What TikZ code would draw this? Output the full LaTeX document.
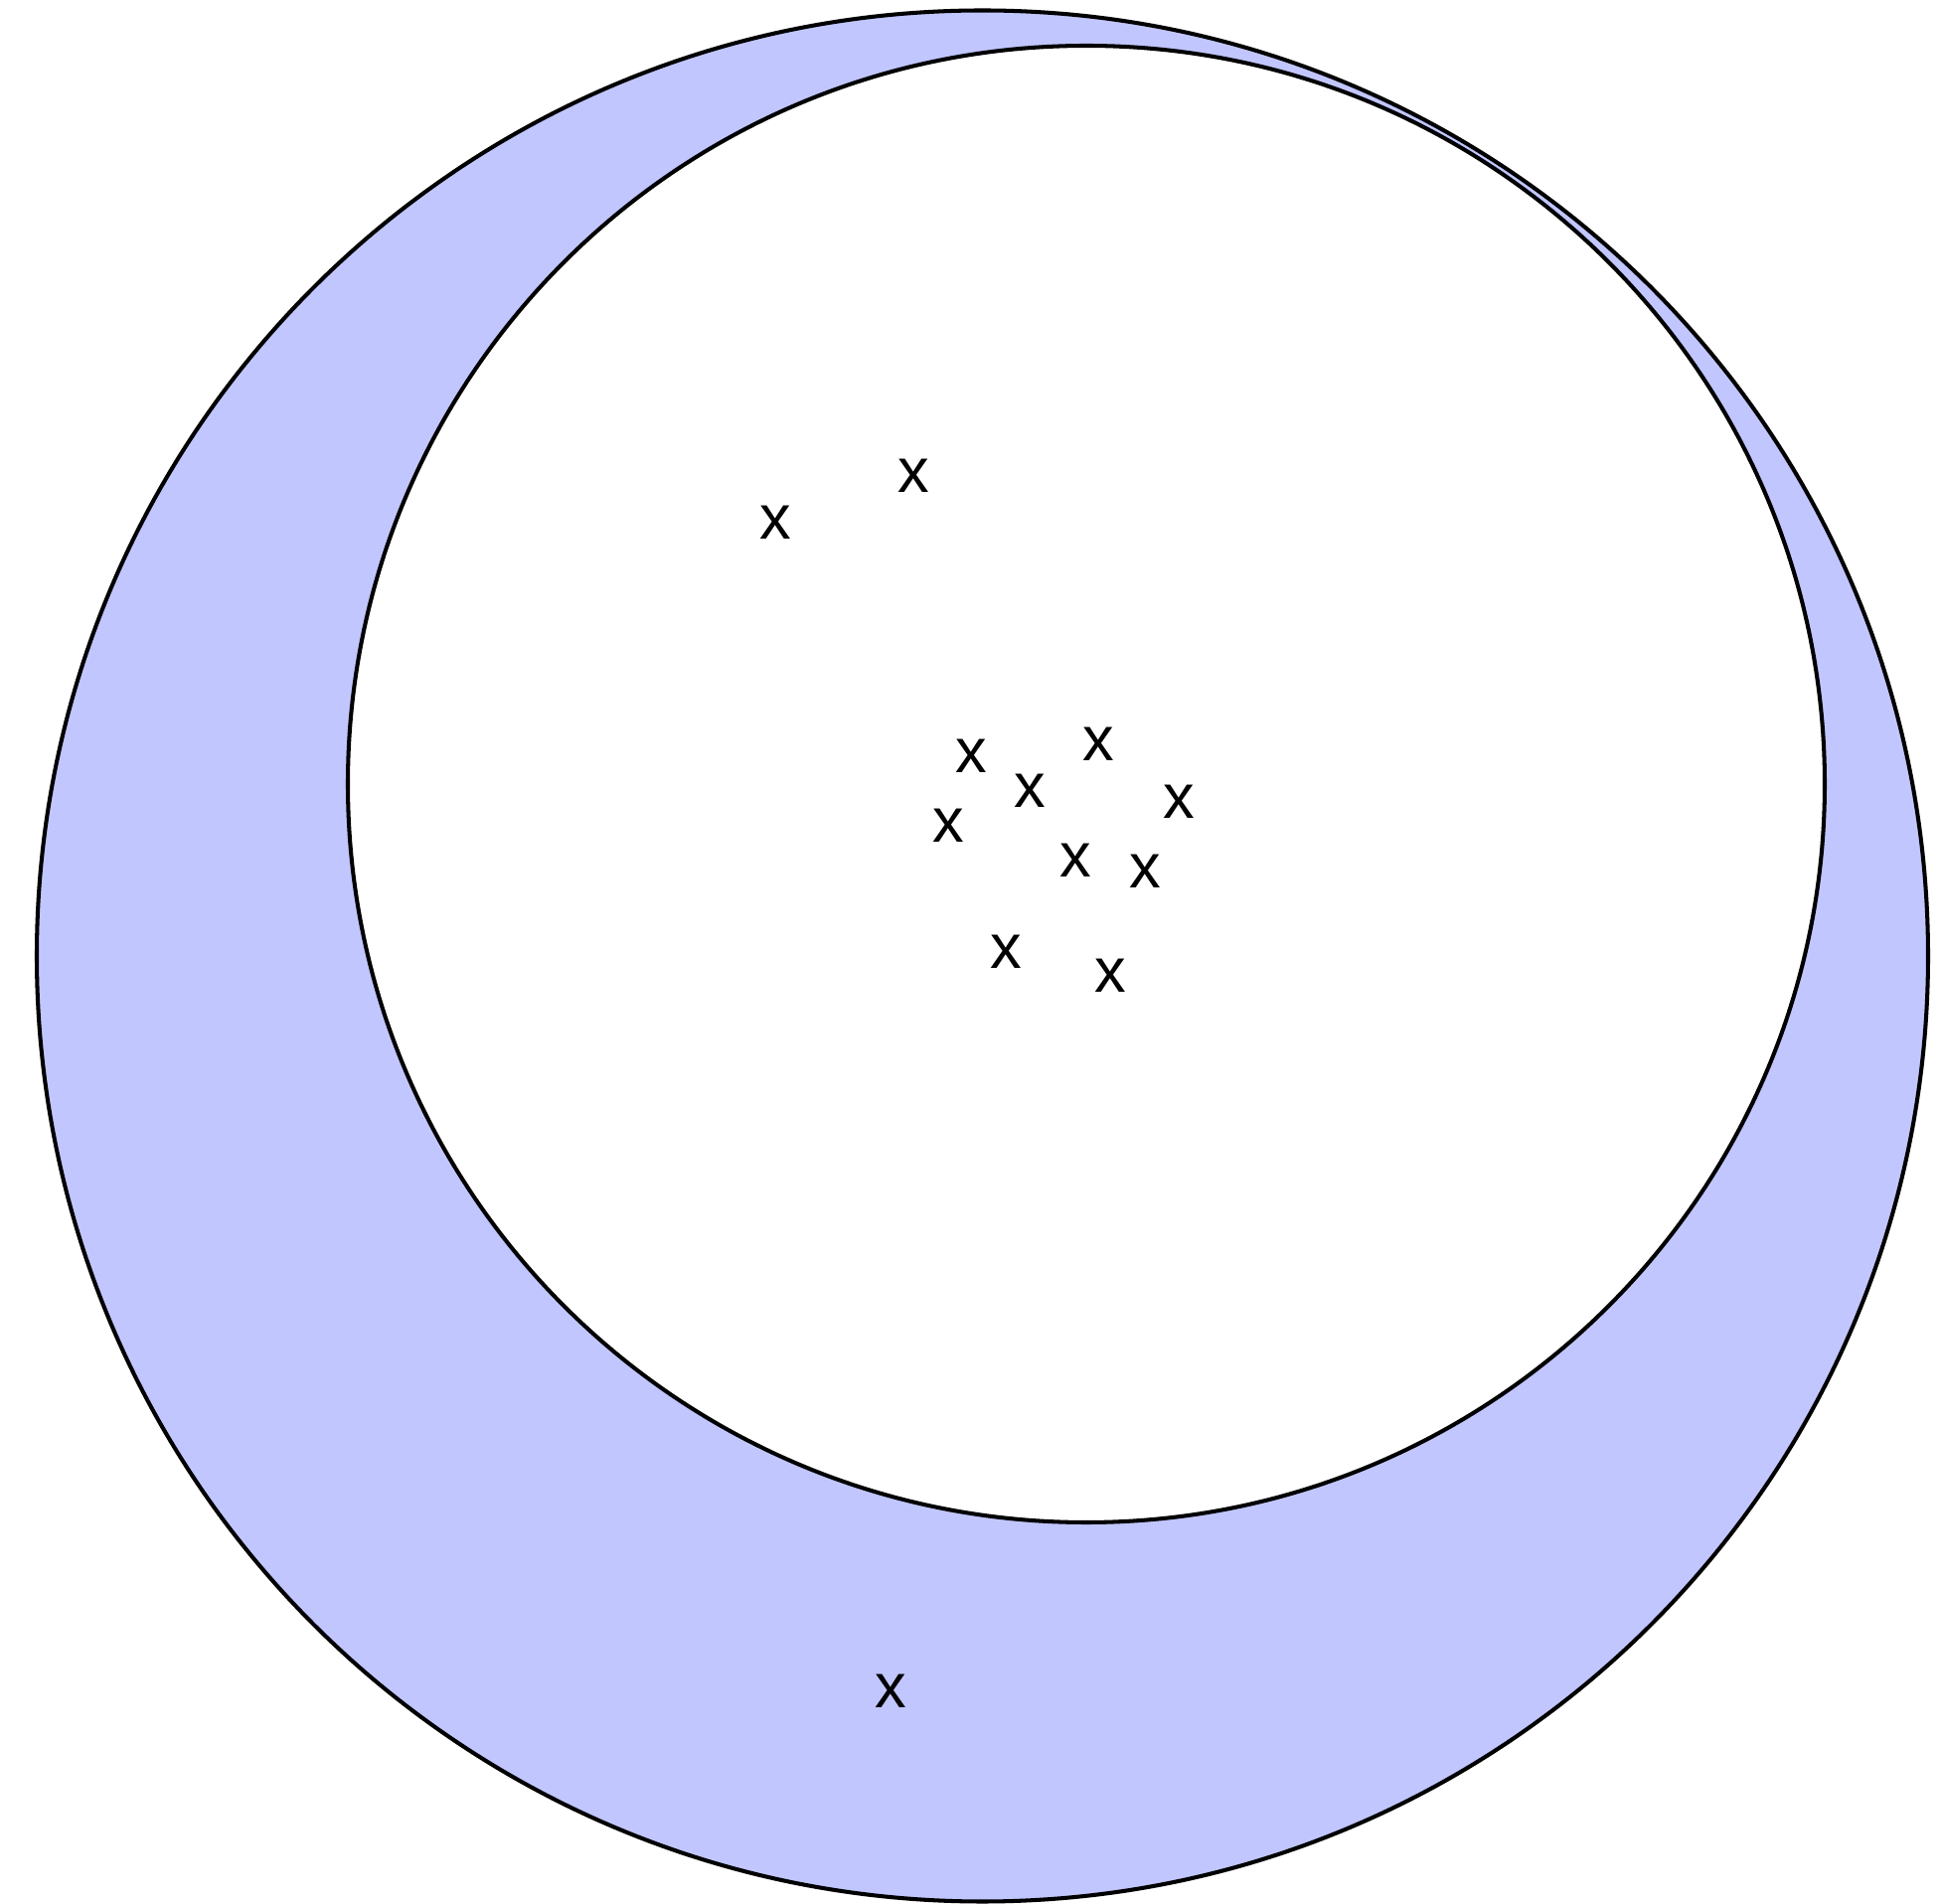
\documentclass[tikz,border=0pt]{standalone}
\usepackage{fontspec}
\setmainfont{Liberation Sans}
\definecolor{moonfill}{RGB}{193,198,255}
\begin{document}
\begin{tikzpicture}[x=0.01cm,y=-0.01cm,
  ring/.style={draw=black,line width=1.15pt},
  pt/.style={inner sep=0pt,font=\fontsize{18}{18}\selectfont}]
\useasboundingbox (0,0) rectangle (1953,1916);
\fill[moonfill,even odd rule] (988.5,962) circle[radius=951.5] (1093,789) circle[radius=743];
\draw[ring] (988.5,962) circle[radius=951.5];
\draw[ring] (1093,789) circle[radius=743];
\node[pt] (p1) at (780,526) {x};
\node[pt] (p2) at (919,479) {x};
\node[pt] (p3) at (977,761) {x};
\node[pt] (p4) at (1105,749) {x};
\node[pt] (p5) at (1036,796) {x};
\node[pt] (p6) at (954,831) {x};
\node[pt] (p7) at (1186,807) {x};
\node[pt] (p8) at (1082,866) {x};
\node[pt] (p9) at (1152,877) {x};
\node[pt] (p10) at (1012,958) {x};
\node[pt] (p11) at (1117,982) {x};
\node[pt] (p12) at (896,1702) {x};
\end{tikzpicture}
\end{document}
